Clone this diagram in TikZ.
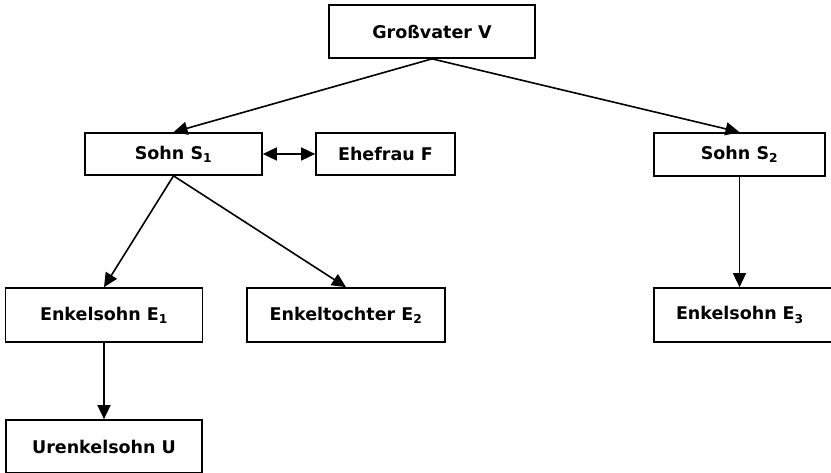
\documentclass[tikz,border=0pt]{standalone}
\usepackage{fontspec}
\setmainfont{DejaVu Sans}
\usepackage{tikz}
\usetikzlibrary{arrows.meta, positioning}

\begin{document}
\begin{tikzpicture}[x=1pt, y=-1pt,
        person/.style={draw, line width=1.7pt, inner sep=0pt, font=\fontsize{17.5}{20}\selectfont\bfseries},
        tip/.style={-{Triangle[length=14pt, width=13pt]}, line width=1.6pt}]
        \useasboundingbox (0,0) rectangle (831,473);
        \node[person, minimum width=206pt, minimum height=53pt] (V) at (432,31.5) {Großvater V};
        \node[person, minimum width=177pt, minimum height=42pt] (S1) at (173.5,154) {Sohn S\textsubscript{1}};
        \node[person, minimum width=139pt, minimum height=42pt] (F) at (385.5,154) {Ehefrau F};
        \node[person, minimum width=171pt, minimum height=43pt] (S2) at (739.5,154.5) {Sohn S\textsubscript{2}};
        \node[person, minimum width=197pt, minimum height=54pt] (E1) at (104,315) {Enkelsohn E\textsubscript{1}};
        \node[person, minimum width=198pt, minimum height=54pt] (E2) at (346,315) {Enkeltochter E\textsubscript{2}};
        \node[person, minimum width=196pt, minimum height=54pt, text width=176pt, align=left] (E3) at (752,315) {\hspace*{12pt}Enkelsohn E\textsubscript{3}};
        \node[person, minimum width=196pt, minimum height=53pt] (U) at (104,446.5) {Urenkelsohn U};
        \draw[tip] (V.south) to (S1.north);
        \draw[tip] (V.south) to (S2.north);
        \draw[{Triangle[length=14pt, width=13pt]}-{Triangle[length=14pt, width=13pt]}, line width=1.6pt] (S1) to (F);
        \draw[tip] (S1.south) to (E1.north);
        \draw[tip] (S1.south) to (E2.north);
        \draw[tip] (S2.south) to (S2.south |- E3.north);
        \draw[tip] (E1.south) to (U.north);
    \end{tikzpicture}
\end{document}
